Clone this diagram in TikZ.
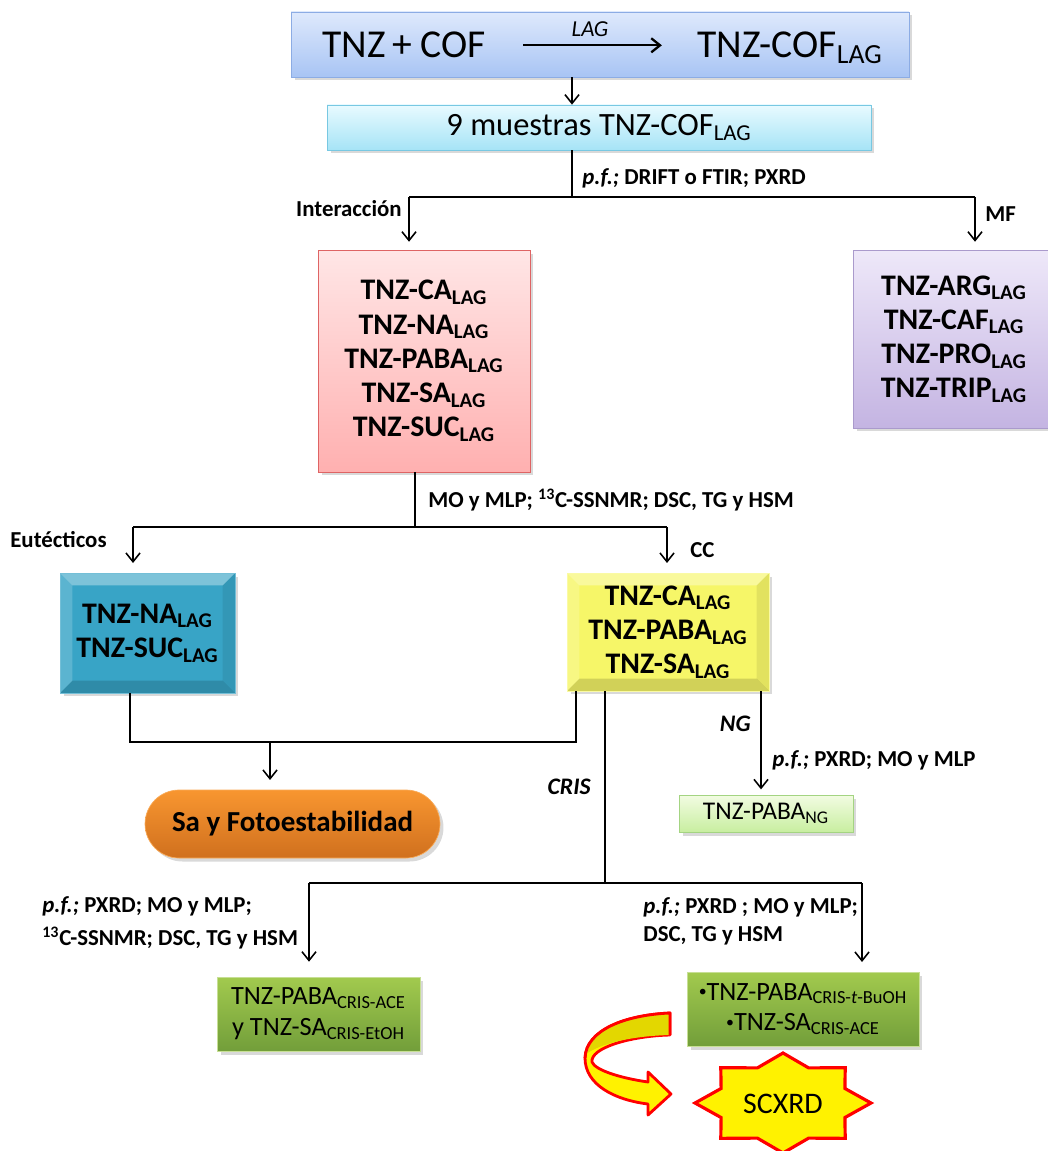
\documentclass[tikz,border=0pt]{standalone}
\usepackage{fontspec}
\setmainfont{Carlito}
\usetikzlibrary{shapes.geometric, shadows, arrows.meta}
\newcommand{\lo}[1]{\textsubscript{#1}}
\newcommand{\dotb}{\raisebox{0.25ex}{\scalebox{0.6}{\textbullet}}}
\definecolor{topA}{RGB}{222,233,252}
\definecolor{topB}{RGB}{168,196,244}
\definecolor{topE}{RGB}{140,172,228}
\definecolor{muA}{RGB}{232,250,255}
\definecolor{muB}{RGB}{166,228,246}
\definecolor{muE}{RGB}{120,200,226}
\definecolor{pinkA}{RGB}{255,230,230}
\definecolor{pinkB}{RGB}{255,176,176}
\definecolor{pinkE}{RGB}{222,100,100}
\definecolor{purA}{RGB}{238,232,249}
\definecolor{purB}{RGB}{196,180,226}
\definecolor{purE}{RGB}{170,154,204}
\definecolor{tealC}{RGB}{56,164,198}
\definecolor{yelC}{RGB}{246,246,104}
\definecolor{oraA}{RGB}{248,150,48}
\definecolor{oraB}{RGB}{208,112,30}
\definecolor{ngA}{RGB}{242,252,226}
\definecolor{ngB}{RGB}{200,238,160}
\definecolor{ngE}{RGB}{164,212,130}
\definecolor{grA}{RGB}{162,202,78}
\definecolor{grB}{RGB}{114,158,58}

\begin{document}
\begin{tikzpicture}[x=0.02cm,y=-0.02cm]
	\tikzstyle{edge} = [-, line width=0.9pt]
	\tikzstyle{arrow} = [-{Straight Barb[length=5pt,width=8pt]}, line width=0.9pt]
	\tikzstyle{box} = [rectangle, align=center, inner sep=0pt, drop shadow={opacity=0.3,shadow xshift=0.7mm,shadow yshift=-0.7mm}]
	\tikzstyle{itm} = [font=\fontsize{17}{19.5}\selectfont\bfseries]
	\tikzstyle{lbl} = [inner sep=0pt, font=\fontsize{13}{15}\selectfont\bfseries]
	\tikzstyle{bevel} = [path picture={
		\fill[white,opacity=0.35] (path picture bounding box.north west) -- (path picture bounding box.north east) -- ([shift={(-7pt,-7pt)}]path picture bounding box.north east) -- ([shift={(7pt,-7pt)}]path picture bounding box.north west) -- cycle;
		\fill[white,opacity=0.18] (path picture bounding box.north west) -- ([shift={(7pt,-7pt)}]path picture bounding box.north west) -- ([shift={(7pt,7pt)}]path picture bounding box.south west) -- (path picture bounding box.south west) -- cycle;
		\fill[black,opacity=0.15] (path picture bounding box.south west) -- (path picture bounding box.south east) -- ([shift={(-7pt,7pt)}]path picture bounding box.south east) -- ([shift={(7pt,7pt)}]path picture bounding box.south west) -- cycle;
		\fill[black,opacity=0.08] (path picture bounding box.north east) -- (path picture bounding box.south east) -- ([shift={(-7pt,7pt)}]path picture bounding box.south east) -- ([shift={(-7pt,-7pt)}]path picture bounding box.north east) -- cycle;}]
	\tikzstyle{uturn} = [fill=yellow, draw=red, line width=1.6pt, line join=round]
	\useasboundingbox (0,0) rectangle (1047,1151);

	\node[box, top color=topA, bottom color=topB, draw=topE, minimum width=12.36cm, minimum height=1.3cm] (top) at (600,44.5) {};
	\node[inner sep=0pt, anchor=base west, font=\fontsize{22.5}{25}\selectfont] (reac) at (322,58) {TNZ\,+ COF};
	\node[inner sep=0pt, anchor=base west, font=\fontsize{22.5}{25}\selectfont] (prod) at (697,58) {TNZ-COF\lo{LAG}};
	\draw[arrow, line width=1.3pt, shorten <=21pt, shorten >=20pt] (reac.east) -- (reac.east -| prod.west);
	\node[inner sep=0pt, font=\fontsize{13}{15}\selectfont\itshape] (lagtxt) at (590,29) {LAG};

	\node[box, top color=muA, bottom color=muB, draw=muE, minimum width=10.88cm, minimum height=0.9cm, font=\fontsize{18.5}{22}\selectfont] (muestras) at (599,127.5) {9 muestras TNZ-COF\lo{LAG}};
	\draw[arrow] (top.south -| 572,0) -- (muestras.north -| 572,0);

	\node[box, itm, top color=pinkA, bottom color=pinkB, draw=pinkE, minimum width=4.24cm, minimum height=4.44cm] (pink) at (424,361) {TNZ-CA\lo{LAG}\\TNZ-NA\lo{LAG}\\TNZ-PABA\lo{LAG}\\TNZ-SA\lo{LAG}\\TNZ-SUC\lo{LAG}};
	\node[box, itm, top color=purA, bottom color=purB, draw=purE, minimum width=4.04cm, minimum height=3.56cm] (purple) at (954,339) {TNZ-ARG\lo{LAG}\\TNZ-CAF\lo{LAG}\\TNZ-PRO\lo{LAG}\\TNZ-TRIP\lo{LAG}};

	\coordinate (s1) at (572,197);
	\coordinate (s1l) at (409,197);
	\coordinate (s1r) at (975,197);
	\draw[edge] (muestras.south -| s1) -- (s1);
	\draw[edge] (s1l) -- (s1r);
	\draw[arrow, shorten >=4.5pt] (s1l) -- (s1l |- pink.north);
	\draw[arrow, shorten >=4.5pt] (s1r) -- (s1r |- purple.north);
	\node[lbl, anchor=west] (pf1) at (582,178) {\textit{p.f.;} DRIFT o FTIR; PXRD};
	\node[lbl, anchor=east] (inter) at (402,209) {Interacción};
	\node[lbl, anchor=west] (mf) at (985,214) {MF};

	\node[box, itm, bevel, fill=tealC, draw=tealC!70!white, minimum width=3.5cm, minimum height=2.4cm] (teal) at (147.5,633) {TNZ-NA\lo{LAG}\\TNZ-SUC\lo{LAG}};
	\node[box, itm, bevel, fill=yelC, draw=yelC!60!white, minimum width=4.04cm, minimum height=2.36cm] (yellowbox) at (668,632) {TNZ-CA\lo{LAG}\\TNZ-PABA\lo{LAG}\\TNZ-SA\lo{LAG}};

	\coordinate (s2) at (415,527);
	\coordinate (s2l) at (133,527);
	\coordinate (s2r) at (667,527);
	\draw[edge] (pink.south -| s2) -- (s2);
	\draw[edge] (s2l) -- (s2r);
	\draw[arrow, shorten >=5.5pt] (s2l) -- (s2l |- teal.north);
	\draw[arrow, shorten >=5.5pt] (s2r) -- (s2r |- yellowbox.north);
	\node[lbl, anchor=west] (tec1) at (428,500) {MO y MLP; \textsuperscript{13}C-SSNMR; DSC, TG y HSM};
	\node[lbl, anchor=west] (eut) at (10,540) {Eutécticos};
	\node[lbl, anchor=west] (cc) at (690,550) {CC};

	\node[box, top color=oraA, bottom color=oraB, draw=oraA!80!white, minimum width=5.9cm, minimum height=1.36cm, rounded corners=0.68cm, font=\fontsize{16.5}{20}\selectfont\bfseries] (fotoest) at (292.5,824) {Sa y Fotoestabilidad};
	\coordinate (m1) at (130,742);
	\coordinate (m2) at (576,742);
	\coordinate (m3) at (270,742);
	\draw[edge] (teal.south -| m1) -- (m1) -- (m2) -- (yellowbox.south -| m2);
	\draw[arrow, shorten >=5.5pt] (m3) -- (m3 |- fotoest.north);

	\node[box, top color=ngA, bottom color=ngB, draw=ngE, minimum width=3.48cm, minimum height=0.74cm, font=\fontsize{14.5}{17}\selectfont] (pabang) at (766,813.5) {TNZ-PABA\lo{NG}};
	\coordinate (n1) at (761,691);
	\draw[arrow, shorten >=3pt] (n1) -- (n1 |- pabang.north);
	\node[lbl, anchor=east, font=\fontsize{13.5}{15}\selectfont\bfseries\itshape] (ng) at (751,724) {NG};
	\node[lbl, anchor=west] (tec2) at (772,760) {\textit{p.f.;} PXRD; MO y MLP};

	\coordinate (c1) at (605,883);
	\coordinate (c1l) at (309,883);
	\coordinate (c1r) at (862,883);
	\draw[edge] (yellowbox.south -| c1) -- (c1);
	\draw[edge] (c1l) -- (c1r);
	\node[lbl, anchor=east, font=\fontsize{13.5}{15}\selectfont\bfseries\itshape] (cris) at (591,787) {CRIS};

	\node[box, top color=grA, bottom color=grB, draw=grA!60!white, minimum width=4.06cm, minimum height=1.48cm, font=\fontsize{15}{17.5}\selectfont] (greenl) at (318.5,1014) {TNZ-PABA\lo{CRIS-ACE}\\y TNZ-SA\lo{CRIS-EtOH}};
	\node[box, top color=grA, bottom color=grB, draw=grA!60!white, minimum width=4.64cm, minimum height=1.48cm, font=\fontsize{15}{17.5}\selectfont] (greenr) at (803,1009) {\dotb TNZ-PABA\lo{CRIS-\textit{t}-BuOH}\\\dotb TNZ-SA\lo{CRIS-ACE}};
	\draw[arrow, shorten >=8.5pt] (c1l) -- (c1l |- greenl.north);
	\draw[arrow, shorten >=5.5pt] (c1r) -- (c1r |- greenr.north);
	\node[lbl, anchor=west, align=left, font=\fontsize{13}{18.5}\selectfont\bfseries] (tec3) at (42,923) {\textit{p.f.;} PXRD; MO y MLP;\\\textsuperscript{13}C-SSNMR; DSC, TG y HSM};
	\node[lbl, anchor=west, align=left, font=\fontsize{13}{16}\selectfont\bfseries] (tec4) at (643,921) {\textit{p.f.;} PXRD ; MO y MLP;\\DSC, TG y HSM};

	\draw[uturn] (670,1013) .. controls (625,1015) and (586,1030) .. (585,1058) .. controls (585,1085) and (615,1100) .. (648,1104) -- (648,1115) -- (671,1094) -- (648,1072) -- (648,1082) .. controls (620,1078) and (595,1070) .. (592,1062) .. controls (590,1048) and (630,1036) .. (670,1035) -- cycle;
	\fill[yellow!75!olive] (670,1013) .. controls (625,1015) and (587,1030) .. (586,1054) .. controls (600,1044) and (630,1036) .. (670,1035) -- cycle;
	\draw[draw=red, line width=1.6pt, line join=round] (670,1035) -- (670,1013) .. controls (625,1015) and (586,1030) .. (585,1058);

	\draw[fill=yellow, draw=red, line width=1.8pt, line join=miter] (871,1103) \foreach \i in {1,...,15} { -- ({783+ifthenelse(mod(\i,2)==0,88,67)*cos(22.5*\i)}, {1103-ifthenelse(mod(\i,2)==0,50,38)*sin(22.5*\i)}) } -- cycle;
	\node[font=\fontsize{17}{20}\selectfont] (scxrd) at (783,1104) {SCXRD};
\end{tikzpicture}
\end{document}
